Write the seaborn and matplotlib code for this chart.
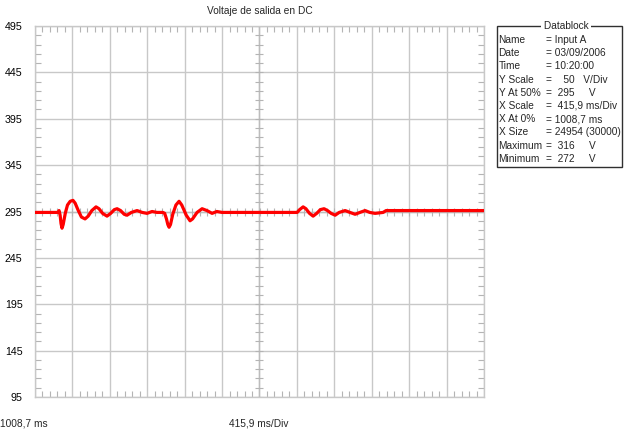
import matplotlib
matplotlib.use("Agg")
import matplotlib.pyplot as plt
from matplotlib.patches import Rectangle
import pandas as pd
import seaborn as sns

# Trace: time (ms) and measured DC output voltage (V)
time_ms = [1008.7, 1264, 1276, 1288, 1298, 1309, 1322, 1345, 1370, 1400,
           1431, 1455, 1490, 1525, 1565, 1600, 1640, 1687, 1720, 1760,
           1809, 1850, 1890, 1921, 1960, 2000, 2032, 2080, 2143, 2200,
           2254, 2310, 2365, 2430, 2450, 2470, 2485, 2499, 2515, 2540,
           2575, 2610, 2640, 2690, 2732, 2760, 2810, 2866, 2920, 2977,
           3030, 3088, 3922, 3950, 3989, 4020, 4060, 4100, 4140, 4180,
           4222, 4260, 4300, 4345, 4390, 4456, 4510, 4567, 4620, 4678,
           4730, 4789, 4878, 4911, 5999.5]
volts = [294, 294, 296, 291, 282, 277, 281, 293, 302, 306,
         307, 304, 296, 289, 287, 290, 296, 300, 298, 293,
         290, 293, 297, 298, 296, 292, 291, 294, 296, 294,
         293, 295, 294, 294, 293, 287, 281, 278, 281, 292,
         302, 306, 302, 291, 285, 287, 294, 298, 296, 293,
         295, 294, 294, 297, 300, 298, 293, 290, 293, 297,
         298, 296, 293, 291, 294, 296, 294, 292, 294, 296,
         294, 293, 294, 296, 296]

# Scope settings
x_start = 1008.7
x_per_div = 415.9
x_divs = 12
y_ticks = [95, 145, 195, 245, 295, 345, 395, 445, 495]

title = "Voltaje de salida en DC"
datablock_keys = ["Name", "Date", "Time", "Y Scale", "Y At 50%", "X Scale",
                  "X At 0%", "X Size", "Maximum", "Minimum"]
datablock_vals = ["= Input A", "= 03/09/2006", "= 10:20:00",
                  "=    50   V/Div", "=  295     V", "=  415,9 ms/Div",
                  "= 1008,7 ms", "= 24954 (30000)", "=  316     V",
                  "=  272     V"]

sns.set_theme(style="white")
plt.rcParams["font.family"] = ["Liberation Sans", "DejaVu Sans"]
FS = 7.3
GRID = "#c8c8c8"

W, H = 624, 432
fig = plt.figure(figsize=(W / 100, H / 100), dpi=100)
L, R, T, B = 35, 484, 26, 397
ax = fig.add_axes([L / W, 1 - B / H, (R - L) / W, (B - T) / H])

df = pd.DataFrame({"t": time_ms, "v": volts})
sns.lineplot(data=df, x="t", y="v", ax=ax, color="#ff0000", lw=2.3,
             zorder=5)

x_end = x_start + x_divs * x_per_div
ax.set_xlim(x_start, x_end)
ax.set_ylim(y_ticks[0], y_ticks[-1])

x_major = [x_start + k * x_per_div for k in range(x_divs + 1)]
x_minor = [x_start + k * x_per_div / 5 for k in range(x_divs * 5 + 1)]
y_step = y_ticks[1] - y_ticks[0]
y_minor = [y_ticks[0] + k * y_step / 5 for k in range((len(y_ticks) - 1) * 5 + 1)]

ax.set_xticks(x_major)
ax.set_xticklabels([])
ax.set_xticks(x_minor, minor=True)
ax.set_yticks(y_ticks)
ax.set_yticklabels([str(v) for v in y_ticks], fontsize=FS + 0.4)
ax.set_yticks(y_minor, minor=True)
ax.tick_params(which="major", length=0, pad=9, colors="#000000")
ax.tick_params(which="minor", direction="in", length=4, width=0.8,
               color="#b4b4b4", top=True, bottom=True, left=True, right=True)
ax.grid(True, which="major", color=GRID, lw=1.0)
ax.set_xlabel("")
ax.set_ylabel("")
for s in ax.spines.values():
    s.set_color(GRID)
    s.set_linewidth(1.0)

# Center crosshair with its own division marks
xc = (x_start + x_end) / 2
yc = (y_ticks[0] + y_ticks[-1]) / 2
ax.axvline(xc, color="#bdbdbd", lw=1.0, zorder=1)
ax.axhline(yc, color="#bdbdbd", lw=1.0, zorder=1)
ax.plot([xc] * len(y_minor), y_minor, ls="none", marker="_", ms=6,
        mew=0.8, color="#b4b4b4", zorder=1)
ax.plot(x_minor, [yc] * len(x_minor), ls="none", marker="|", ms=6,
        mew=0.8, color="#b4b4b4", zorder=1)

fig.text((L + R) / 2 / W, 1 - 11 / H, title, ha="center", va="center",
         fontsize=FS)
fig.text(0 / W, 1 - 424 / H, "1008,7 ms", ha="left", va="center", fontsize=FS)
fig.text(229 / W, 1 - 424 / H, "415,9 ms/Div", ha="left", va="center",
         fontsize=FS)

# Datablock panel
bx0, by0, bx1, by1 = 497, 26, 622, 167
fig.patches.append(Rectangle((bx0 / W, 1 - by1 / H), (bx1 - bx0) / W,
                             (by1 - by0) / H, transform=fig.transFigure,
                             fill=False, edgecolor="#303030", lw=1.0))
fig.text(566 / W, 1 - by0 / H, " Datablock ", ha="center", va="center",
         fontsize=FS, bbox=dict(facecolor="white", edgecolor="none", pad=0))
for i, (k, v) in enumerate(zip(datablock_keys, datablock_vals)):
    yy = 1 - (40 + i * 13.2) / H
    fig.text(498.5 / W, yy, k, ha="left", va="center", fontsize=FS)
    fig.text(546 / W, yy, v, ha="left", va="center", fontsize=FS)

fig.savefig("out.png", dpi=100, facecolor="white")
